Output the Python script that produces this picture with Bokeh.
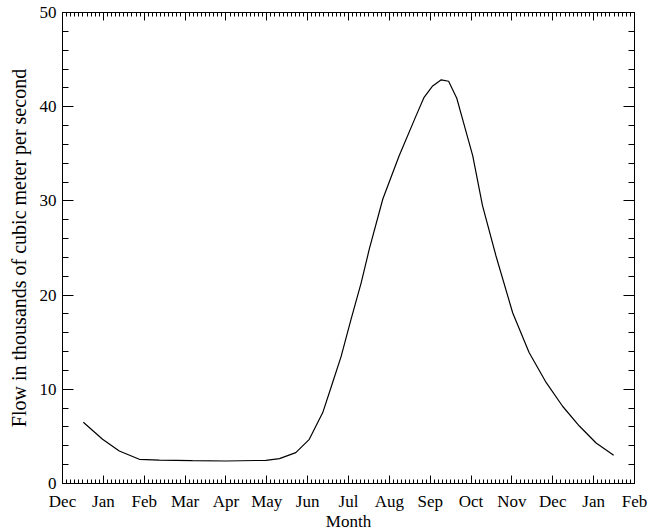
from bokeh.plotting import figure
from bokeh.models import (LinearAxis, FixedTicker, SingleIntervalTicker, Range1d,
                          CustomJSTickFormatter)
from bokeh.embed import file_html
from bokeh.resources import INLINE

# Month tick labels (ticks at month starts, 0 = start of Dec)
month_labels = ["Dec", "Jan", "Feb", "Mar", "Apr", "May", "Jun", "Jul",
                "Aug", "Sep", "Oct", "Nov", "Dec", "Jan", "Feb"]

# Position of each reading in months since 1 Dec, and flow (thousand m^3/s)
month_pos = [0.51, 0.98, 1.39, 1.88, 2.37, 3.18, 4.00, 4.98, 5.31, 5.71,
             6.04, 6.37, 6.61, 6.82, 7.06, 7.31, 7.51, 7.84, 8.24, 8.65,
             8.85, 9.06, 9.27, 9.45, 9.65, 9.79, 10.04, 10.28, 10.61, 11.02,
             11.42, 11.84, 12.24, 12.65, 13.06, 13.49]
flow = [6.5, 4.7, 3.45, 2.57, 2.49, 2.43, 2.39, 2.46, 2.64, 3.28,
        4.69, 7.53, 10.7, 13.5, 17.4, 21.3, 24.9, 30.2, 34.8, 39.0,
        41.0, 42.2, 42.85, 42.7, 40.9, 38.7, 34.8, 29.5, 24.15, 18.1,
        13.9, 10.7, 8.2, 6.1, 4.3, 3.0]

y_title = "Flow in thousands of cubic meter per second"
x_title = "Month"

FONT = "Liberation Serif"

p = figure(frame_width=572, frame_height=471,
           x_range=Range1d(0, len(month_labels) - 1), y_range=Range1d(0, 50),
           x_axis_type=None, y_axis_type=None,
           output_backend="svg", toolbar_location=None,
           min_border_left=62, min_border_top=12, min_border_right=20,
           min_border_bottom=10,
           background_fill_color="white", border_fill_color="white",
           outline_line_color="black", outline_line_width=1)

p.line(month_pos, flow, line_color="black", line_width=1.2)

n = len(month_labels) - 1
xticks = list(range(n + 1))
xminor = [i / 10 for i in range(n * 10 + 1) if i % 10]
overrides = {i: lab for i, lab in enumerate(month_labels)}
blank = CustomJSTickFormatter(code="return ''")


def style_common(ax):
    ax.axis_line_color = "black"
    ax.major_tick_line_color = "black"
    ax.minor_tick_line_color = "black"
    ax.major_tick_out = 0
    ax.minor_tick_out = 0


def style_x(ax, labels):
    style_common(ax)
    ax.ticker = FixedTicker(ticks=xticks, minor_ticks=xminor)
    ax.major_tick_in = 8
    ax.minor_tick_in = 4
    if labels:
        ax.major_label_overrides = overrides
        ax.major_label_text_font = FONT
        ax.major_label_text_font_size = "17px"
        ax.major_label_text_color = "black"
        ax.major_label_standoff = 8
    else:
        ax.formatter = blank
        ax.major_label_text_color = None
        ax.major_label_text_font_size = "2px"
        ax.major_label_standoff = 0


def style_y(ax, labels):
    style_common(ax)
    ax.ticker = SingleIntervalTicker(interval=10, num_minor_ticks=5)
    ax.major_tick_in = 11
    ax.minor_tick_in = 6
    if labels:
        ax.major_label_text_font = FONT
        ax.major_label_text_font_size = "17px"
        ax.major_label_text_color = "black"
        ax.major_label_standoff = 6
    else:
        ax.formatter = blank
        ax.major_label_text_color = None
        ax.major_label_text_font_size = "2px"
        ax.major_label_standoff = 0


xb = LinearAxis(axis_label=x_title)
style_x(xb, True)
xb.axis_label_text_font = FONT
xb.axis_label_text_font_size = "17px"
xb.axis_label_text_font_style = "normal"
xb.axis_label_text_color = "black"
xb.axis_label_standoff = -2
p.add_layout(xb, "below")

xt = LinearAxis()
style_x(xt, False)
p.add_layout(xt, "above")

yl = LinearAxis(axis_label=y_title)
style_y(yl, True)
yl.axis_label_text_font = FONT
yl.axis_label_text_font_size = "20px"
yl.axis_label_text_font_style = "normal"
yl.axis_label_text_color = "black"
yl.axis_label_standoff = 7
p.add_layout(yl, "left")

yr = LinearAxis()
style_y(yr, False)
p.add_layout(yr, "right")

open("out.html", "w").write(file_html(p, INLINE))
